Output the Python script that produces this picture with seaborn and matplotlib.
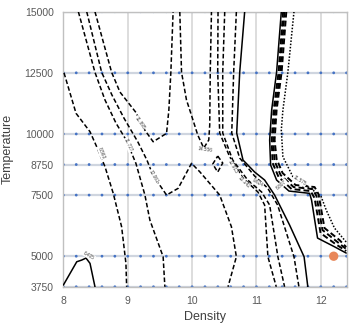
import pandas as pd
import matplotlib
matplotlib.use("Agg")
import matplotlib.pyplot as plt
import seaborn as sns

sns.set_theme(style="white")
plt.rcParams['font.family'] = ['Liberation Sans', 'DejaVu Sans']

# sample grid
density_grid = [8.0, 8.2, 8.4, 8.6, 8.8, 9.0, 9.2, 9.4, 9.6, 9.8, 10.0, 10.2,
                10.4, 10.6, 10.8, 11.0, 11.2, 11.4, 11.6, 11.8, 12.0, 12.2, 12.4]
temp_levels = [3750, 5000, 7500, 8750, 10000, 12500, 15000]
density_ticks = [8, 9, 10, 11, 12]

# observed point
obs_density = [12.2]
obs_temp = [5000]

# contour lines (density, temperature)
c6405_x = [8.00, 8.208, 8.285, 8.352, 8.414, 8.491]
c6405_t = [3820, 4773, 4842, 4924, 4707, 3750]

c8563_x = [8.01, 8.197, 8.414, 8.518, 8.647, 8.775, 8.905, 8.972, 8.983]
c8563_t = [12500, 10844, 10091, 9477, 8659, 7571, 6205, 4707, 3750]

c11727_x = [8.233, 8.491, 8.647, 8.817, 8.957, 9.008, 9.127, 9.267, 9.344, 9.550, 9.577]
c11727_t = [15000, 12521, 11388, 10447, 9833, 9547, 8798, 7501, 6479, 4977, 3750]

c12061_x = [8.363, 8.595, 8.755, 8.941, 9.158, 9.298, 9.391, 9.603, 9.783, 9.991,
            10.119, 10.429, 10.611, 10.688, 10.558]
c12061_t = [15000, 12521, 11592, 10651, 9670, 8933, 8320, 7501, 7776, 8798,
            8455, 7501, 6205, 4977, 3750]

c11895_x = [8.491, 8.750, 8.879, 9.138, 9.189, 9.298, 9.395, 9.603, 9.639, 9.670, 9.705]
c11895_t = [15000, 12521, 11715, 10844, 10447, 10038, 9682, 10025, 10979, 12521, 15000]

c14556_x = [9.809, 9.836, 9.913, 9.964, 10.088, 10.181, 10.259, 10.274, 10.282, 10.301]
c14556_t = [15000, 12521, 11388, 10979, 9956, 9424, 9751, 10365, 12521, 15000]

ring_x = [10.398, 10.476, 10.398, 10.321, 10.398]
ring_t = [9097, 8811, 8442, 8770, 9097]

d1_x = [10.403, 10.398, 10.429, 10.584, 10.791, 11.023, 11.127, 11.178, 11.308]
d1_t = [15000, 12533, 10038, 9068, 8197, 7624, 7092, 4977, 3750]

d2_x = [10.507, 10.476, 10.476, 10.631, 10.864, 11.081, 11.205, 11.333, 11.437]
d2_t = [15000, 12533, 10038, 8933, 8115, 7624, 7092, 4977, 3750]

d3_x = [10.688, 10.646, 10.616, 10.740, 10.972, 11.174, 11.329, 11.583, 11.660]
d3_t = [15000, 12533, 10038, 9015, 8279, 7788, 7092, 4977, 3750]

s1_x = [10.817, 10.740, 10.693, 10.791, 10.972, 11.127, 11.282, 11.515, 11.740, 11.798]
s1_t = [15000, 12533, 10038, 8933, 8442, 8115, 7501, 6274, 4977, 3750]

b1_x = [11.386, 11.313, 11.236, 11.205, 11.220, 11.313, 11.505, 11.825, 11.856, 11.949, 12.212, 12.394]
b1_t = [15000, 12533, 10979, 9751, 8729, 8115, 7665, 7571, 7297, 5742, 5386, 5129]

b2_x = [11.414, 11.344, 11.267, 11.236, 11.251, 11.344, 11.546, 11.841, 11.903, 11.996, 12.228, 12.394]
b2_t = [15000, 12533, 10979, 9751, 8811, 8238, 7747, 7665, 7379, 5947, 5497, 5211]

b3_x = [11.437, 11.367, 11.290, 11.259, 11.282, 11.375, 11.577, 11.871, 11.933, 12.026, 12.259, 12.394]
b3_t = [15000, 12533, 10979, 9751, 8893, 8320, 7829, 7747, 7461, 6070, 5579, 5293]

b4_x = [11.464, 11.391, 11.313, 11.282, 11.313, 11.406, 11.608, 11.903, 11.964, 12.057, 12.290, 12.394]
b4_t = [15000, 12533, 10979, 9751, 8974, 8401, 7911, 7829, 7542, 6152, 5660, 5374]

dot_x = [11.583, 11.488, 11.411, 11.386, 11.411, 11.566, 11.876, 12.006, 12.084, 12.212, 12.394]
dot_t = [15000, 12521, 10979, 10160, 9068, 8250, 7706, 7432, 6888, 6152, 5579]

# contour labels: text, density, temperature, angle
label_text = ["6.405", "8.563", "11.727", "12.061", "11.895", "14.556",
              "12.913", "13.142", "9.624", "8.807", "11.575"]
label_x = [8.40, 8.595, 9.008, 9.395, 9.189, 10.196, 10.631, 10.80, 11.02, 11.39, 11.67]
label_t = [5020, 9220, 9547, 8250, 10447, 9342, 8648, 8030, 8000, 7930, 8080]
label_rot = [-30, -68, -65, -60, -55, -8, -60, -45, -30, 40, -32]

DASH = (0, (3, 1.6))
DOT = (0, (1, 1.1))

fig, ax = plt.subplots(figsize=(3.54, 3.30), dpi=100)
fig.subplots_adjust(left=0.179, right=0.979, top=0.9645, bottom=0.131)

# horizontal rows and sample points
for t in temp_levels:
    ax.axhline(t, color='#cfd5df', lw=1.6, zorder=0)
for d in density_ticks[1:]:
    ax.axvline(d, color='#dadada', lw=1.3, zorder=0)

grid = pd.DataFrame([(d, t) for t in temp_levels for d in density_grid],
                    columns=['Density', 'Temperature'])
sns.scatterplot(data=grid, x='Density', y='Temperature', color='#4472c4',
                s=4, edgecolor='none', ax=ax, zorder=2)

def draw(xs, ts, ls, lw=1.1):
    sns.lineplot(x=xs, y=ts, sort=False, estimator=None, color='black',
                 linewidth=lw, linestyle=ls, ax=ax, zorder=3)

draw(c6405_x, c6405_t, '-')
draw(c8563_x, c8563_t, DASH)
draw(c11727_x, c11727_t, DASH)
draw(c12061_x, c12061_t, DASH)
draw(c11895_x, c11895_t, DASH)
draw(c14556_x, c14556_t, DASH)
draw(ring_x, ring_t, DASH)
draw(d1_x, d1_t, DASH)
draw(d2_x, d2_t, DASH)
draw(d3_x, d3_t, DASH)
draw(s1_x, s1_t, '-')
draw(b1_x, b1_t, '-')
draw(b2_x, b2_t, DASH, 1.4)
draw(b3_x, b3_t, DASH, 1.4)
draw(b4_x, b4_t, DASH, 1.4)
draw(dot_x, dot_t, DOT, 1.1)

for txt, lx, lt, rot in zip(label_text, label_x, label_t, label_rot):
    ax.text(lx, lt, txt, fontsize=3.4, color='#404040', rotation=rot,
            ha='center', va='center', zorder=4,
            bbox=dict(facecolor='white', edgecolor='none', pad=0.3))

sns.scatterplot(x=obs_density, y=obs_temp, color='#e8875a', s=45,
                edgecolor='none', ax=ax, zorder=5, clip_on=False)

ax.set_xlim(8, 12.4)
ax.set_ylim(3750, 15000)
ax.set_xticks(density_ticks)
ax.set_yticks(temp_levels)
ax.set_xticklabels([str(d) for d in density_ticks])
ax.set_yticklabels([str(t) for t in temp_levels])
ax.tick_params(length=0, labelsize=7.5, labelcolor='#595959')
ax.tick_params(axis='x', pad=7)
ax.tick_params(axis='y', pad=7)
ax.set_xlabel('Density', fontsize=9, color='#404040', labelpad=3)
ax.set_ylabel('Temperature', fontsize=9, color='#404040', labelpad=8)
for sp in ax.spines.values():
    sp.set_color('#c0c0c0')
    sp.set_linewidth(1.0)
ax.grid(False)

fig.savefig('out.png', dpi=100)
